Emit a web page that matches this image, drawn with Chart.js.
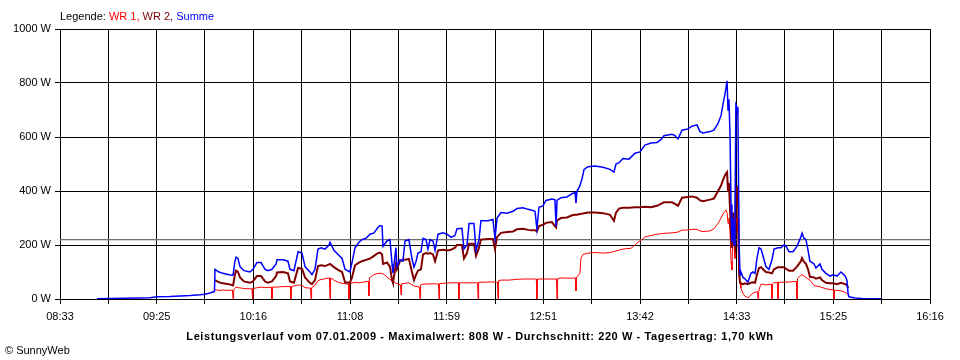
<!DOCTYPE html>
<html>
<head>
<meta charset="utf-8">
<title>Leistungsverlauf</title>
<script src="https://cdn.jsdelivr.net/npm/chart.js@4.4.1/dist/chart.umd.min.js"></script>
<style>
  body { margin: 0; background: #fff; }
  #wrap { position: relative; width: 960px; height: 360px; font-family: "Liberation Sans", Arial, sans-serif; color: #000; }
  #chart { position: absolute; left: 0; top: 0; }
  .txt { position: absolute; font-size: 11px; line-height: 13px; white-space: nowrap; }
  #legende { left: 60px; top: 10px; }
  #titel { left: 0; width: 960px; top: 330px; text-align: center; font-weight: bold; letter-spacing: 0.6px; }
  #copy { left: 5px; top: 344px; }
</style>
</head>
<body>
<div id="wrap">
  <canvas id="chart" width="960" height="360"></canvas>
  <div class="txt" id="legende">Legende: <span style="color:#ff0000">WR 1,</span> <span style="color:#800000">WR 2,</span> <span style="color:#0000ff">Summe</span></div>
  <div class="txt" id="titel">Leistungsverlauf vom 07.01.2009 - Maximalwert: 808 W - Durchschnitt: 220 W - Tagesertrag: 1,70 kWh</div>
  <div class="txt" id="copy">&copy; SunnyWeb</div>
</div>
<script>
// Zeiten in Minuten seit Mitternacht
const zeitBeginn = 513; // 08:33
const zeitEnde = 976;   // 16:16
const zeitLabels = ['08:33', '09:25', '10:16', '11:08', '11:59', '12:51', '13:42', '14:33', '15:25', '16:16'];
const yTicks = [0, 200, 400, 600, 800, 1000];
const durchschnitt = 220;

// Summe und WR 2 teilen sich die Zeitachse (WR 2 erst ab 09:55)
const zeit = [
  532.7, 539.6, 547.6, 555.6, 560.9, 564.6, 571.5, 576.9, 582.2, 587.5, 590.2, 592.8, 594.4, 595.2,
  595.5, 597.6, 599.7, 602.9, 605.1, 606.1, 606.7, 607.7, 608.8, 610.9, 614.1, 615.7, 617.8, 620.0,
  622.1, 623.7, 625.8, 628.0, 628.5, 631.7, 634.3, 635.4, 637.5, 639.7, 641.8, 643.4, 646.0, 647.1,
  648.7, 650.3, 651.9, 654.0, 656.2, 656.7, 658.8, 661.0, 663.1, 664.7, 667.3, 668.4, 670.0, 672.1,
  673.7, 675.8, 678.0, 680.1, 682.2, 683.3, 684.4, 684.9, 687.0, 688.6, 689.7, 690.2, 691.8, 692.3,
  693.9, 695.5, 696.6, 698.7, 700.3, 701.4, 702.5, 703.5, 705.1, 706.2, 707.8, 708.8, 709.9, 711.5,
  712.6, 714.2, 716.8, 719.0, 721.1, 723.2, 724.3, 726.9, 728.0, 729.6, 730.7, 733.3, 734.4, 736.0,
  737.0, 740.8, 743.4, 744.5, 745.6, 747.7, 750.9, 754.1, 756.2, 759.4, 762.1, 763.7, 765.8, 766.8,
  767.9, 770.0, 771.6, 774.8, 776.4, 777.0, 777.5, 779.6, 782.8, 785.5, 787.1, 787.6, 788.1, 789.7,
  790.8, 791.9, 794.0, 797.7, 802.0, 805.7, 807.8, 808.9, 810.5, 812.6, 815.8, 819.0, 821.7, 824.3,
  827.5, 830.7, 832.8, 834.4, 838.7, 840.3, 841.9, 844.0, 847.2, 849.3, 852.0, 853.6, 855.2, 858.9,
  861.0, 863.2, 864.8, 865.8, 866.9, 867.4, 868.0, 868.5, 869.0, 869.6, 870.1, 870.6, 871.2, 871.7,
  872.2, 872.7, 873.3, 873.8, 874.4, 874.9, 875.4, 876.5, 877.5, 879.1, 880.7, 881.8, 882.9, 883.9,
  885.0, 886.1, 887.1, 888.7, 890.3, 891.9, 893.0, 895.1, 896.7, 898.3, 899.4, 901.0, 903.1, 905.2,
  907.3, 907.9, 908.9, 910.0, 911.1, 912.1, 914.3, 915.3, 917.5, 918.5, 920.6, 922.8, 924.4, 926.5,
  928.6, 930.8, 931.8, 932.4, 932.9, 936.1, 939.8, 945.1, 949.9
];

const summe = [
  1, 2, 3, 4, 5, 8, 9, 11, 13, 16, 18, 22, 26, 28,
  110, 100, 95, 90, 88, 140, 155, 150, 120, 105, 100, 110, 135, 135,
  110, 105, 110, 130, 145, 145, 140, 110, 105, 175, 170, 120, 100, 90,
  110, 185, 190, 185, 200, 210, 180, 165, 150, 110, 100, 135, 190, 210,
  220, 225, 240, 245, 265, 272, 270, 195, 215, 220, 130, 96, 190, 120,
  145, 140, 215, 220, 150, 118, 140, 170, 175, 225, 220, 185, 220, 215,
  180, 240, 245, 240, 228, 235, 260, 262, 185, 200, 280, 280, 180, 220,
  290, 290, 295, 225, 300, 320, 318, 325, 335, 338, 332, 330, 325, 260,
  340, 345, 365, 370, 368, 270, 365, 375, 378, 390, 395, 355, 398, 420,
  445, 480, 490, 493, 488, 480, 470, 500, 505, 520, 518, 540, 545, 570,
  578, 580, 590, 605, 610, 605, 593, 625, 630, 640, 645, 620, 615, 620,
  625, 650, 680, 720, 760, 780, 808, 700, 740, 600, 350, 211, 300, 200,
  290, 720, 710, 680, 211, 90, 100, 80, 75, 62, 95, 100, 95, 150,
  190, 185, 160, 120, 110, 145, 185, 190, 190, 200, 195, 175, 175, 195,
  230, 244, 225, 220, 180, 140, 130, 115, 130, 110, 95, 85, 90, 85,
  100, 85, 70, 20, 8, 4, 2, 1, 1
];

const wr2 = [
  null, null, null, null, null, null, null, null, null, null, null, null, null, null,
  70, 62, 58, 55, 50, 90, 105, 100, 80, 65, 60, 65, 85, 85,
  65, 60, 65, 85, 98, 100, 95, 65, 60, 115, 112, 80, 60, 55,
  70, 122, 125, 122, 128, 130, 118, 108, 100, 62, 60, 80, 125, 135,
  140, 145, 150, 160, 170, 172, 165, 130, 135, 120, 70, 60, 130, 110,
  140, 145, 145, 148, 100, 70, 90, 105, 110, 165, 170, 168, 170, 165,
  140, 180, 182, 180, 182, 190, 200, 200, 150, 170, 205, 205, 160, 190,
  220, 222, 222, 185, 230, 245, 248, 250, 258, 260, 256, 255, 255, 250,
  270, 275, 282, 285, 270, 265, 290, 300, 302, 310, 312, 312, 312, 315,
  316, 318, 320, 320, 318, 312, 290, 320, 335, 338, 338, 340, 340, 342,
  340, 345, 352, 358, 358, 352, 345, 375, 378, 380, 375, 365, 362, 368,
  372, 400, 420, 440, 458, 465, 470, 400, 430, 330, 230, 189, 320, 210,
  195, 400, 410, 380, 100, 60, 60, 55, 58, 55, 60, 62, 60, 90,
  115, 118, 110, 100, 98, 95, 110, 118, 118, 118, 112, 105, 105, 120,
  140, 152, 138, 130, 110, 82, 80, 75, 80, 70, 60, 58, 58, 55,
  60, 55, 52, 40, null, null, null, null, null
];

// WR 1 mit eigenen Zeitpunkten (kurze Einbrueche auf 0 W)
const zeitWR1 = [
  595.5, 597.6, 599.7, 602.9, 604.8, 605.1, 605.4, 606.1, 606.7, 607.7, 609.8, 612.0, 615.2, 615.5,
  615.8, 617.8, 620.0, 622.1, 625.5, 625.8, 626.1, 628.0, 631.7, 635.6, 635.9, 636.2, 637.5, 639.7,
  641.8, 643.4, 646.3, 646.6, 646.9, 648.7, 650.3, 651.9, 654.0, 656.4, 656.7, 657.0, 658.8, 661.0,
  663.1, 666.5, 666.8, 667.1, 670.0, 672.1, 673.7, 677.1, 677.4, 677.7, 680.1, 682.2, 684.4, 686.0,
  688.1, 689.7, 691.8, 694.2, 694.5, 694.8, 696.6, 698.7, 701.4, 704.3, 704.6, 704.9, 706.2, 709.9,
  714.4, 714.7, 715.0, 716.8, 721.1, 725.0, 725.3, 725.6, 728.0, 732.3, 735.2, 735.5, 735.8, 737.0,
  741.3, 745.8, 746.1, 746.4, 747.7, 752.0, 756.2, 759.9, 766.5, 766.8, 767.1, 771.6, 777.2, 777.5,
  777.8, 779.6, 783.9, 787.3, 787.6, 787.9, 789.7, 790.2, 791.3, 794.0, 797.7, 802.0, 805.7, 808.9,
  812.6, 816.9, 819.0, 820.6, 822.7, 824.3, 827.5, 830.7, 834.4, 838.7, 841.9, 844.0, 847.2, 849.3,
  852.0, 853.6, 855.2, 858.9, 861.0, 863.2, 864.8, 865.8, 866.9, 867.4, 868.0, 868.5, 869.0, 869.6,
  870.1, 870.6, 871.2, 871.7, 872.2, 872.7, 873.3, 873.8, 874.4, 874.9, 875.4, 876.5, 877.5, 879.1,
  880.7, 881.8, 882.9, 884.2, 884.5, 884.8, 885.5, 886.1, 887.1, 888.7, 891.6, 891.9, 892.2, 893.0,
  894.8, 895.1, 895.4, 896.7, 901.0, 904.9, 905.2, 905.5, 907.3, 907.9, 910.0, 912.1, 914.3, 917.5,
  920.6, 922.8, 924.6, 924.9, 925.2, 928.6, 930.8, 931.8, 932.4
];

const wr1 = [
  35, 32, 33, 32, 33, 0, 33, 40, 45, 42, 40, 38, 38, 0,
  38, 42, 44, 42, 44, 0, 44, 44, 46, 46, 0, 46, 48, 52,
  50, 42, 40, 0, 42, 50, 68, 72, 75, 78, 0, 78, 70, 62,
  58, 55, 0, 56, 62, 60, 62, 65, 12, 78, 90, 95, 95, 88,
  75, 68, 58, 52, 15, 56, 58, 60, 48, 44, 0, 52, 55, 56,
  56, 0, 57, 58, 60, 60, 0, 60, 60, 60, 60, 0, 62, 62,
  63, 63, 0, 68, 70, 70, 73, 74, 74, 0, 74, 74, 74, 0,
  76, 78, 77, 78, 30, 80, 95, 150, 165, 170, 172, 170, 172, 178,
  185, 188, 200, 210, 220, 230, 235, 240, 243, 245, 248, 255, 256, 258,
  258, 252, 250, 252, 260, 280, 300, 315, 325, 330, 320, 280, 300, 250,
  140, 107, 290, 200, 150, 280, 300, 250, 80, 60, 40, 20, 10, 5,
  15, 22, 25, 27, 0, 28, 45, 55, 55, 52, 55, 0, 55, 60,
  62, 0, 62, 62, 63, 65, 0, 75, 88, 90, 80, 70, 50, 45,
  38, 35, 34, 0, 33, 30, 25, 20, 15
];

const punkte = (zeiten, werte) => zeiten.map((t, i) => ({ x: t, y: werte[i] }));

const zeitText = (t) => {
  const h = Math.floor(t / 60);
  const m = Math.round(t - h * 60);
  return String(h).padStart(2, '0') + ':' + String(m).padStart(2, '0');
};

// 18 Rasterabschnitte, jede zweite Linie beschriftet
const rasterSchritte = (zeitLabels.length - 1) * 2;
const rasterZeiten = [];
for (let i = 0; i <= rasterSchritte; i++) {
  rasterZeiten.push(zeitBeginn + (zeitEnde - zeitBeginn) * i / rasterSchritte);
}

const schrift = { family: '"Liberation Sans", Arial, sans-serif', size: 11 };

new Chart(document.getElementById('chart'), {
  type: 'line',
  data: {
    datasets: [
      {
        label: 'Summe',
        data: punkte(zeit, summe),
        borderColor: '#0000ff',
        borderWidth: 1.5,
        order: 1,
      },
      {
        label: 'WR 2',
        data: punkte(zeit, wr2),
        borderColor: '#800000',
        borderWidth: 2,
        order: 2,
      },
      {
        label: 'WR 1',
        data: punkte(zeitWR1, wr1),
        borderColor: '#ff0000',
        borderWidth: 1,
        order: 3,
      },
      {
        label: 'Durchschnitt',
        data: [{ x: zeitBeginn, y: durchschnitt }, { x: zeitEnde, y: durchschnitt }],
        borderColor: '#6e6e6e',
        borderWidth: 1.4,
        order: 10,
      },
    ],
  },
  options: {
    responsive: false,
    animation: false,
    events: [],
    layout: { padding: { left: 0, right: 30, top: 29, bottom: 0 } },
    elements: {
      point: { radius: 0 },
      line: { tension: 0, fill: false },
    },
    plugins: {
      legend: { display: false },
      tooltip: { enabled: false },
    },
    scales: {
      x: {
        type: 'linear',
        min: zeitBeginn,
        max: zeitEnde,
        afterBuildTicks: (scale) => {
          scale.ticks = rasterZeiten.map((v) => ({ value: v }));
        },
        afterFit: (scale) => {
          scale.height = 61;
        },
        grid: { color: '#000', lineWidth: 1, tickLength: 5, tickColor: '#000' },
        border: { color: '#000', width: 1 },
        ticks: {
          autoSkip: false,
          maxRotation: 0,
          padding: 6,
          color: '#000',
          font: schrift,
          callback: (value, index) => (index % 2 === 0 ? zeitLabels[index / 2] || zeitText(value) : ''),
        },
      },
      y: {
        min: yTicks[0],
        max: yTicks[yTicks.length - 1],
        afterBuildTicks: (scale) => {
          scale.ticks = yTicks.map((v) => ({ value: v }));
        },
        afterFit: (scale) => {
          scale.width = 60;
        },
        grid: { color: '#000', lineWidth: 1, tickLength: 5, tickColor: '#000' },
        border: { color: '#000', width: 1 },
        ticks: {
          padding: 4,
          color: '#000',
          font: schrift,
          callback: (value) => value + ' W',
        },
      },
    },
  },
});
</script>
</body>
</html>
